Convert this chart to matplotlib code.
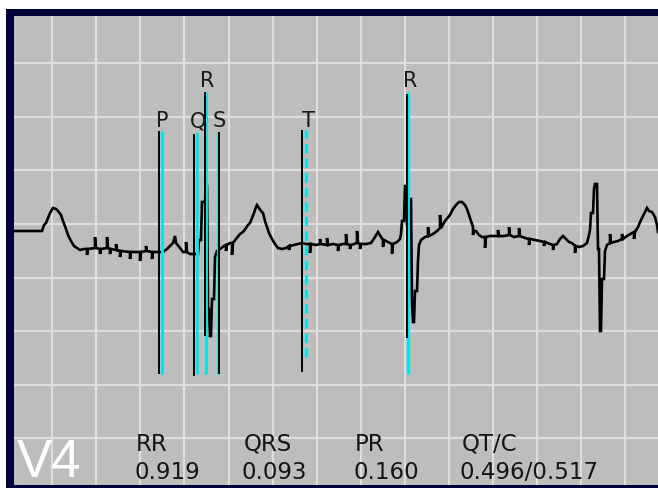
import numpy as np
import matplotlib.pyplot as plt
from matplotlib.patches import Rectangle

FS = 220.5     # samples per second on the strip
GAIN = 107.1   # counts per mV

# lead V4, raw sample index / counts
ecg_n = [6, 34, 36, 38, 40, 42, 45, 48, 50, 53, 55, 58, 60, 63, 66, 69, 72, 76,
         79, 79, 80, 87, 87, 88, 92, 92, 93, 99, 99, 100, 102, 102, 103,
         108, 108, 109, 112, 112, 113, 122, 122, 123, 132, 132, 133,
         138, 138, 139, 144, 144, 145, 152,
         155, 159, 163, 165, 167, 168, 172, 175, 178, 178, 179, 182, 187,
         190, 191, 193, 194, 197, 198, 199, 200, 201, 202, 203, 204, 206, 207,
         209, 212, 216, 218, 218, 219, 222, 224, 224, 225,
         228, 232, 235, 238, 240, 242, 244, 246, 248, 249, 251, 253, 255, 257,
         259, 261, 264, 267, 270, 274, 278, 281, 281, 282, 286, 290, 294, 298,
         302, 302, 303, 308, 312, 312, 313, 319, 319, 320, 325, 330, 330, 331,
         335, 338, 338, 339, 342, 342, 343, 349, 349, 350, 352, 352, 353,
         358, 363, 367, 370, 373, 375, 375, 376, 380, 384, 384, 385, 389, 392, 393,
         394, 396, 397, 398, 399, 401, 402, 403, 404, 405, 406, 407, 409, 410,
         411, 413, 417, 420, 420, 421, 425, 429, 432, 432, 433, 437,
         442, 445, 448, 451, 454, 457, 459, 461, 463, 465, 465, 466, 468, 471,
         474, 477, 477, 478, 482, 486, 490, 490, 491, 496, 501, 501, 502, 506,
         511, 511, 512, 517, 521, 521, 522, 527, 532, 536, 536, 537, 542,
         545, 545, 546, 549, 552, 555,
         558, 561, 564, 567, 567, 568, 571, 575, 579, 581, 582, 583, 585, 586,
         587, 589, 590, 591, 592, 593, 594, 596, 597, 599, 602, 602, 603, 606,
         610, 614, 614, 615, 619, 624, 626, 626, 627, 630, 633, 636, 639, 641,
         644, 647, 649, 650]
ecg_a = [-7, -7, -1, 1, 6, 11, 16, 15, 13, 9, 3, -5, -11, -17, -22, -24, -26, -25,
         -25, -31, -25, -24, -13, -24, -25, -30, -25, -24, -13, -24, -25, -30, -25,
         -26, -20, -26, -27, -33, -27, -28, -35, -28, -28, -37, -28,
         -27, -22, -27, -28, -35, -28, -28,
         -28, -25, -21, -19, -12, -19, -24, -28, -28, -18, -28, -30, -30,
         -30, -16, -16, 22, 22, 38, 38, -83, -85, -112, -112, -75, -75, -33,
         -27, -25, -22, -21, -27, -21, -19, -19, -31, -19,
         -15, -10, -8, -4, -1, 1, 6, 11, 17, 19, 16, 13, 11, 3,
         -3, -9, -15, -20, -24, -25, -24, -22, -26, -22, -21, -20, -19, -20,
         -20, -29, -20, -21, -20, -15, -20, -21, -14, -21, -20, -21, -27, -21,
         -20, -20, -10, -20, -21, -25, -21, -19, -7, -19, -20, -25, -20,
         -20, -19, -13, -8, -13, -16, -23, -16, -18, -20, -30, -20, -18, -15, -10,
         3, 3, 38, 38, 0, 0, 25, 25, -78, -98, -98, -67, -67, -37,
         -21, -16, -13, -12, -3, -12, -10, -7, -4, 9, -4, 3,
         9, 15, 19, 22, 22, 19, 15, 9, 3, -3, -11, -7, -7, -11,
         -13, -13, -24, -13, -12, -12, -12, -6, -12, -12, -11, -3, -11, -13,
         -12, -4, -12, -14, -15, -21, -15, -16, -17, -18, -22, -18, -20,
         -21, -26, -21, -20, -15, -12,
         -15, -18, -19, -22, -29, -22, -23, -22, -19, -11, -6, 11, 11, 35,
         40, 40, -25, -25, -107, -107, -55, -55, -27, -21, -19, -10, -19, -18,
         -17, -15, -10, -15, -12, -9, -8, -15, -8, -3, 4, 10, 16, 13,
         12, 7, -1, -8]

# caliper marks
mark_labels = ['P', 'Q', 'R', 'S', 'T', 'R']
black_n = [151, 186, 197, 210.5, 294, 399]
black_top = [93, 90, 132, 92, 94, 130]
black_bot = [-150, -152, -112, -150, -148, -114]
cyan_n = [154, 189, 198, 209.6, 298, 399.8]
cyan_top = [93, 92, 132, 92, 94, 132]
cyan_bot = [-150, -150, -150, -150, -133, -150]
cyan_dashed = [False, False, False, False, True, False]
label_n = [154, 190, 199, 211, 300, 402]
label_a = [98, 98, 138, 98, 98, 138]

meas_names = ['RR', 'QRS', 'PR', 'QT/C']
meas_values = ['0.919', '0.093', '0.160', '0.496/0.517']
lead_name = 'V4'

W, H = 658, 489
fig = plt.figure(figsize=(W / 100, H / 100), dpi=100, facecolor='white')
fig.patches.append(Rectangle((6 / W, 0), 652 / W, 479 / H, transform=fig.transFigure,
                             facecolor='#00003a', edgecolor='none', zorder=-1))
ax = fig.add_axes([14 / W, 3 / H, 650 / W, 469 / H])
ax.set_facecolor('#bdbdbd')

t = np.array(ecg_n) / FS
v = np.array(ecg_a) / GAIN

# caliper lines
for i in range(len(mark_labels)):
    ls = (0, (3.2, 1.8)) if cyan_dashed[i] else '-'
    ax.plot([cyan_n[i] / FS] * 2, [cyan_bot[i] / GAIN, cyan_top[i] / GAIN],
            color='#00e6ee', lw=2.1, ls=ls, zorder=4, solid_capstyle='butt')
    ax.plot([black_n[i] / FS] * 2, [black_bot[i] / GAIN, black_top[i] / GAIN],
            color='black', lw=1.4, zorder=5, solid_capstyle='butt')
    ax.text(label_n[i] / FS, label_a[i] / GAIN, mark_labels[i], ha='center',
            va='baseline', fontsize=15, color='#1a1a1a', zorder=6)

ax.plot(t, v, color='black', lw=1.9, zorder=3, solid_joinstyle='miter')

# visible window: samples 6..656 (axes runs a bit past the image edge)
ax.set_xlim(6 / FS, 656 / FS)
ax.set_ylim(-261 / GAIN, 208 / GAIN)
ax.set_xticks(np.arange(0.2, 2.81, 0.2))
ax.set_yticks(np.arange(-2.0, 1.51, 0.5))
ax.grid(True, color='#dedede', lw=1.5, zorder=1)
ax.set_axisbelow(True)
ax.tick_params(length=0, labelbottom=False, labelleft=False)
for s in ax.spines.values():
    s.set_visible(False)

# measurement read-out
name_x = [136, 244, 355, 462]
val_x = [134.5, 241.5, 353.5, 459.5]
for nm, val, xn, xv in zip(meas_names, meas_values, name_x, val_x):
    fig.text(xn / W, 1 - 451 / H, nm, fontsize=16.5, color='#151515', va='baseline')
    fig.text(xv / W, 1 - 479 / H, val, fontsize=16.5, color='#151515', va='baseline')

fig.text(17 / W, 1 - 477 / H, lead_name, fontsize=38, family='Liberation Sans',
         color='white', va='baseline')

fig.savefig('out.png', dpi=100)
